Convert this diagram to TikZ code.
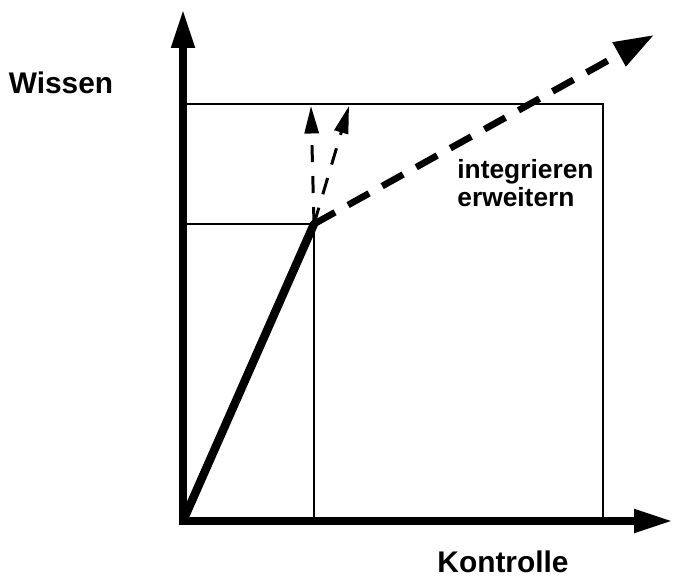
\documentclass[tikz,border=0pt]{standalone}
\usepackage{fontspec}
\setmainfont{Liberation Sans}
\usetikzlibrary{arrows.meta, positioning}

\begin{document}
\begin{tikzpicture}[
    x=0.02cm, y=-0.02cm,
    axis/.style={line width=4.5pt, -{Triangle[length=0.78cm, width=0.44cm]}},
    frame/.style={line width=1.5pt},
    growline/.style={line width=4.8pt, line cap=round},
    option/.style={line width=1.7pt, dash pattern=on 0.34cm off 0.28cm, -{Triangle[length=0.55cm, width=0.28cm]}},
    route/.style={line width=3.8pt, dash pattern=on 0.48cm off 0.3cm, -{Triangle[length=0.8cm, width=0.52cm]}},
    lbl/.style={font=\bfseries\fontsize{17}{20}\selectfont, inner sep=0pt},
    note/.style={font=\bfseries\fontsize{15}{16}\selectfont, inner sep=0pt, align=left}
]
    \useasboundingbox (0,0) rectangle (684,577);
    % Achsen
    \coordinate (O) at (183,521);
    \coordinate (ytop) at (183,9);
    \coordinate (xend) at (673,521);
    % Rahmen
    \coordinate (tl) at (183,104);
    \coordinate (br) at (603,521);
    \coordinate (P) at (314,224);
    \draw[frame] (tl) -| (br);
    \draw[frame] (P -| O) -- (P) -- (P |- O);
    \draw[axis] ([yshift=-0.08cm]O) -- (ytop);
    \draw[axis] ([xshift=-0.08cm]O) -- (xend);
    % Wachstum
    \draw[growline] (O) -- (P);
    \coordinate (up) at (311,106);
    \coordinate (tilt) at (349,106);
    \coordinate (far) at (654,35);
    \draw[option] (P) -- (up);
    \draw[option] (P) -- (tilt);
    \draw[route] (P) -- (far);
    % Beschriftung
    \node[lbl] (wissen) at (61,83) {Wissen};
    \node[lbl] (kontrolle) at (503,562) {Kontrolle};
    \node[note, anchor=north west] (ziel) at (457,159) {integrieren\\erweitern};
\end{tikzpicture}
\end{document}
